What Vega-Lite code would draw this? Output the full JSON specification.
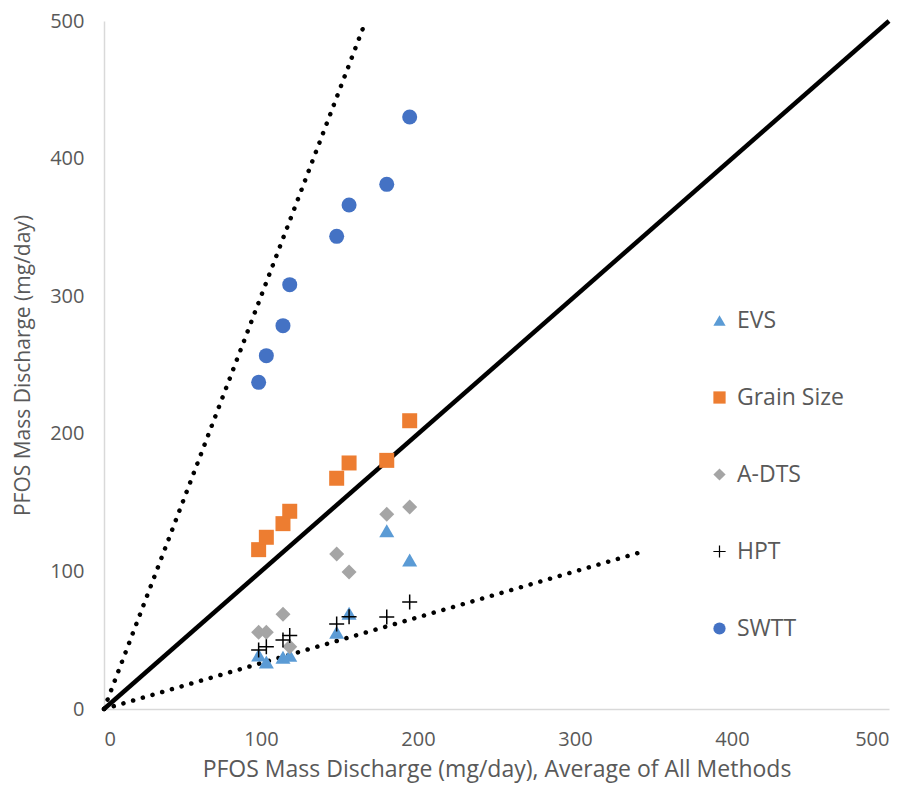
{
  "$schema": "https://vega.github.io/schema/vega-lite/v6.json",
  "width": 785,
  "height": 688,
  "autosize": {"type": "none"},
  "padding": {"left": 104, "top": 21, "right": 20, "bottom": 83},
  "background": "white",
  "config": {
    "view": {"stroke": null},
    "font": "Open Sans",
    "axis": {
      "grid": false,
      "ticks": false,
      "domainColor": "#d9d9d9",
      "domainWidth": 1.5,
      "labelColor": "#595959",
      "labelFontSize": 20,
      "titleColor": "#595959",
      "titleFontSize": 21,
      "titleFontWeight": "normal"
    },
    "legend": {
      "labelColor": "#595959",
      "labelFontSize": 23
    }
  },
  "datasets": {
    "lines": [
      {"line": "1:1", "x": 0, "y": 0},
      {"line": "1:1", "x": 500, "y": 500},
      {"line": "3:1", "x": 0, "y": 0},
      {"line": "3:1", "x": 166.7, "y": 500},
      {"line": "1:3", "x": 0, "y": 0},
      {"line": "1:3", "x": 342, "y": 114}
    ],
    "points": [
      {"method": "EVS", "avg": 98.5, "value": 39.2},
      {"method": "EVS", "avg": 103.4, "value": 34.2},
      {"method": "EVS", "avg": 114.0, "value": 37.6},
      {"method": "EVS", "avg": 118.3, "value": 39.0},
      {"method": "EVS", "avg": 148.2, "value": 55.7},
      {"method": "EVS", "avg": 156.1, "value": 69.5},
      {"method": "EVS", "avg": 180.1, "value": 129.6},
      {"method": "EVS", "avg": 194.7, "value": 108.3},
      {"method": "Grain Size", "avg": 98.5, "value": 115.8},
      {"method": "Grain Size", "avg": 103.4, "value": 124.8},
      {"method": "Grain Size", "avg": 114.0, "value": 134.7},
      {"method": "Grain Size", "avg": 118.3, "value": 143.7},
      {"method": "Grain Size", "avg": 148.2, "value": 167.7},
      {"method": "Grain Size", "avg": 156.1, "value": 178.8},
      {"method": "Grain Size", "avg": 180.1, "value": 180.7},
      {"method": "Grain Size", "avg": 194.7, "value": 209.5},
      {"method": "A-DTS", "avg": 98.5, "value": 55.7},
      {"method": "A-DTS", "avg": 103.4, "value": 55.7},
      {"method": "A-DTS", "avg": 114.0, "value": 68.8},
      {"method": "A-DTS", "avg": 118.3, "value": 45.3},
      {"method": "A-DTS", "avg": 148.2, "value": 112.6},
      {"method": "A-DTS", "avg": 156.1, "value": 99.6},
      {"method": "A-DTS", "avg": 180.1, "value": 141.5},
      {"method": "A-DTS", "avg": 194.7, "value": 146.8},
      {"method": "HPT", "avg": 98.5, "value": 42.9},
      {"method": "HPT", "avg": 103.4, "value": 45.3},
      {"method": "HPT", "avg": 114.0, "value": 50.1},
      {"method": "HPT", "avg": 118.3, "value": 53.5},
      {"method": "HPT", "avg": 148.2, "value": 61.8},
      {"method": "HPT", "avg": 156.1, "value": 67.1},
      {"method": "HPT", "avg": 180.1, "value": 66.9},
      {"method": "HPT", "avg": 194.7, "value": 77.8},
      {"method": "SWTT", "avg": 98.5, "value": 237.4},
      {"method": "SWTT", "avg": 103.4, "value": 256.8},
      {"method": "SWTT", "avg": 114.0, "value": 278.6},
      {"method": "SWTT", "avg": 118.3, "value": 308.4},
      {"method": "SWTT", "avg": 148.2, "value": 343.5},
      {"method": "SWTT", "avg": 156.1, "value": 366.3},
      {"method": "SWTT", "avg": 180.1, "value": 381.3},
      {"method": "SWTT", "avg": 194.7, "value": 430.2}
    ]
  },
  "layer": [
    {
      "data": {"name": "lines"},
      "transform": [{"filter": "datum.line === '1:1'"}],
      "mark": {"type": "line", "color": "black", "strokeWidth": 4.5},
      "encoding": {
        "x": {"field": "x", "type": "quantitative", "scale": {"domain": [0, 500], "nice": false}},
        "y": {"field": "y", "type": "quantitative", "scale": {"domain": [0, 500], "nice": false}}
      }
    },
    {
      "data": {"name": "lines"},
      "transform": [{"filter": "datum.line !== '1:1'"}],
      "mark": {"type": "line", "color": "black", "strokeWidth": 4.5, "strokeDash": [0.1, 10], "strokeCap": "round"},
      "encoding": {
        "x": {"field": "x", "type": "quantitative"},
        "y": {"field": "y", "type": "quantitative"},
        "detail": {"field": "line"}
      }
    },
    {
      "data": {"name": "points"},
      "mark": {"type": "point", "filled": true, "opacity": 1, "size": 225},
      "encoding": {
        "x": {
          "field": "avg",
          "type": "quantitative",
          "scale": {"domain": [0, 500], "nice": false},
          "axis": {"values": [0, 100, 200, 300, 400, 500], "labelPadding": 20, "titlePadding": 9, "titleFontSize": 23},
          "title": "PFOS Mass Discharge (mg/day), Average of All Methods"
        },
        "y": {
          "field": "value",
          "type": "quantitative",
          "scale": {"domain": [0, 500], "nice": false},
          "axis": {"values": [0, 100, 200, 300, 400, 500], "labelPadding": 20, "titlePadding": 16},
          "title": "PFOS Mass Discharge (mg/day)"
        },
        "color": {
          "field": "method",
          "type": "nominal",
          "scale": {
            "domain": ["EVS", "Grain Size", "A-DTS", "HPT", "SWTT"],
            "range": ["#5B9BD5", "#ED7D31", "#A5A5A5", "#000000", "#4472C4"]
          },
          "legend": {
            "title": null,
            "orient": "none",
            "legendX": 604,
            "legendY": 288,
            "symbolSize": 150,
            "rowPadding": 53,
            "labelOffset": 6
          }
        },
        "shape": {
          "field": "method",
          "type": "nominal",
          "scale": {
            "domain": ["EVS", "Grain Size", "A-DTS", "HPT", "SWTT"],
            "range": ["triangle-up", "square", "diamond", "M-1,-0.1H-0.1V-1H0.1V-0.1H1V0.1H0.1V1H-0.1V0.1H-1Z", "circle"]
          },
          "legend": null
        }
      }
    }
  ]
}
